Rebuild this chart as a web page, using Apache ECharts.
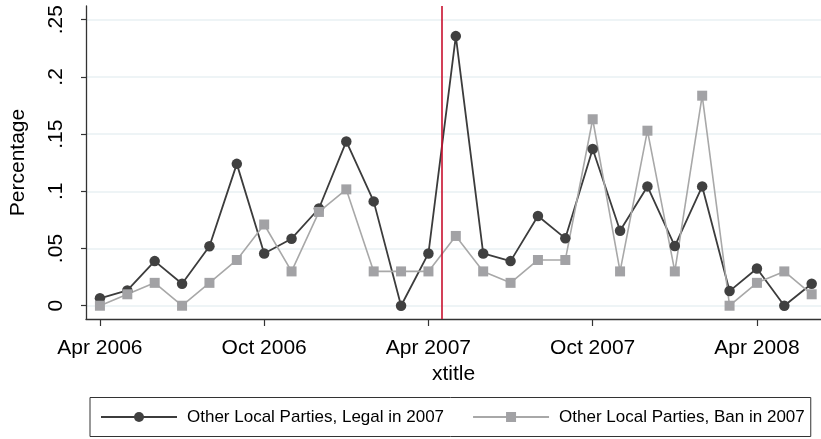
<!DOCTYPE html>
<html>
<head>
<meta charset="utf-8">
<title>Other Local Parties</title>
<script src="https://cdn.jsdelivr.net/npm/echarts@6/dist/echarts.min.js"></script>
<style>
  html, body { margin: 0; padding: 0; background: #fff; }
  #chart { width: 821px; height: 439px; }
</style>
</head>
<body>
<div id="chart"></div>
<script>
// Monthly observations, April 2006 through June 2008
const months = [
  'Apr 2006', 'May 2006', 'Jun 2006', 'Jul 2006', 'Aug 2006', 'Sep 2006',
  'Oct 2006', 'Nov 2006', 'Dec 2006', 'Jan 2007', 'Feb 2007', 'Mar 2007',
  'Apr 2007', 'May 2007', 'Jun 2007', 'Jul 2007', 'Aug 2007', 'Sep 2007',
  'Oct 2007', 'Nov 2007', 'Dec 2007', 'Jan 2008', 'Feb 2008', 'Mar 2008',
  'Apr 2008', 'May 2008', 'Jun 2008'
];

const legalIn2007 = [
  0.0065, 0.0134, 0.039, 0.0192, 0.052, 0.124,
  0.0457, 0.0586, 0.085, 0.1436, 0.0912, 0,
  0.0457, 0.2357, 0.0457, 0.039, 0.0784, 0.0589,
  0.137, 0.0656, 0.1043, 0.0522, 0.1043, 0.0128,
  0.0326, 0, 0.0192
];

const banIn2007 = [
  0, 0.01, 0.02, 0, 0.02, 0.04,
  0.071, 0.03, 0.082, 0.1017, 0.03, 0.03,
  0.03, 0.061, 0.03, 0.02, 0.04, 0.04,
  0.163, 0.03, 0.153, 0.03, 0.1836, 0,
  0.02, 0.03, 0.01
];

const seriesNames = ['Other Local Parties, Legal in 2007', 'Other Local Parties, Ban in 2007'];

const xTickLabels = ['Apr 2006', 'Oct 2006', 'Apr 2007', 'Oct 2007', 'Apr 2008'];
const yTickValues = [0, 0.05, 0.1, 0.15, 0.2, 0.25];
const yTickLabels = ['0', '.05', '.1', '.15', '.2', '.25'];

// The ban took effect in mid-April 2007
const banMonth = months.indexOf('Apr 2007') + 0.5;

const xTickPositions = xTickLabels.map(l => months.indexOf(l));
const toPoints = arr => arr.map((v, i) => [i, v]);

const FONT = "'Liberation Sans', Arial, Helvetica, sans-serif";
const INK = '#333333';

const chart = echarts.init(document.getElementById('chart'), null, { renderer: 'canvas' });

chart.setOption({
  backgroundColor: '#ffffff',
  animation: false,
  textStyle: { fontFamily: FONT, color: '#000' },
  grid: { left: 82.7, top: 6, right: 0, bottom: 120, containLabel: false },
  xAxis: {
    type: 'value',
    min: -0.509,
    max: 26.34,
    name: 'xtitle',
    nameLocation: 'middle',
    nameGap: 45,
    nameTextStyle: { fontSize: 21, color: '#000', fontFamily: FONT },
    axisLine: { show: true, onZero: false, lineStyle: { color: INK, width: 1.3 } },
    axisTick: { show: true, customValues: xTickPositions, length: 7, lineStyle: { color: INK, width: 1.2 } },
    axisLabel: {
      customValues: xTickPositions,
      formatter: v => months[Math.round(v)],
      fontSize: 21,
      margin: 19,
      color: '#000',
      fontFamily: FONT
    },
    splitLine: { show: false }
  },
  yAxis: {
    type: 'value',
    min: -0.0116,
    max: 0.262,
    name: 'Percentage',
    nameLocation: 'middle',
    nameGap: 57,
    nameTextStyle: { fontSize: 21, color: '#000', fontFamily: FONT },
    axisLine: { show: true, onZero: false, lineStyle: { color: INK, width: 1.3 } },
    axisTick: { show: true, customValues: yTickValues, length: 5, lineStyle: { color: INK, width: 1.2 } },
    axisLabel: {
      customValues: yTickValues,
      rotate: 90,
      formatter: v => {
        const i = yTickValues.findIndex(t => Math.abs(t - v) < 1e-9);
        return i >= 0 ? yTickLabels[i] : '';
      },
      fontSize: 21,
      margin: 19,
      color: '#000',
      fontFamily: FONT
    },
    splitLine: { show: true, lineStyle: { color: '#e9f1f3', width: 1.6 } }
  },
  legend: {
    left: 90,
    top: 397.5,
    orient: 'horizontal',
    itemWidth: 76,
    itemHeight: 12.5,
    itemGap: 28,
    padding: [11, 6, 11, 10],
    borderColor: '#333',
    borderWidth: 1,
    borderRadius: 0,
    textStyle: { fontSize: 17, color: '#000', fontFamily: FONT, padding: [0, 0, 0, 5] },
    data: seriesNames
  },
  series: [
    {
      name: seriesNames[0],
      type: 'line',
      data: toPoints(legalIn2007),
      symbol: 'circle',
      symbolSize: 10.5,
      showAllSymbol: true,
      lineStyle: { color: '#3c3c3c', width: 1.8 },
      itemStyle: { color: '#404040' },
      markLine: {
        silent: true,
        symbol: ['none', 'none'],
        label: { show: false },
        lineStyle: { color: '#c8102e', width: 1.6, type: 'solid' },
        data: [{ xAxis: banMonth }]
      }
    },
    {
      name: seriesNames[1],
      type: 'line',
      data: toPoints(banIn2007),
      symbol: 'rect',
      symbolSize: 10,
      showAllSymbol: true,
      lineStyle: { color: '#a8a8a8', width: 1.6 },
      itemStyle: { color: '#a2a2a5' }
    }
  ]
});
</script>
</body>
</html>
